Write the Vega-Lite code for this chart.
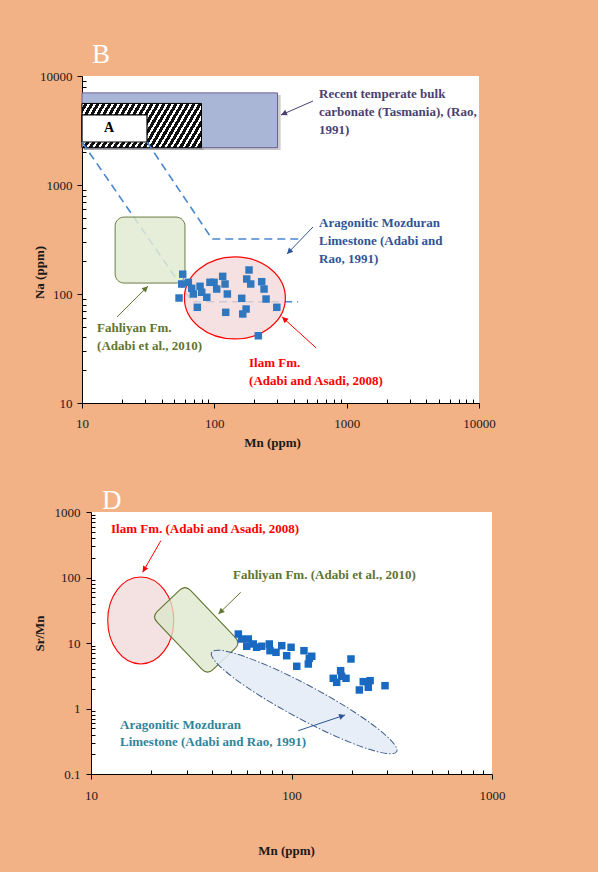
{
  "$schema": "https://vega.github.io/schema/vega-lite/v6.json",
  "background": "#F3B186",
  "padding": {"left": 26, "top": 41, "right": 100, "bottom": 20},
  "spacing": 38,
  "config": {
    "font": "Liberation Serif",
    "view": {"stroke": null},
    "text": {"font": "Liberation Serif"},
    "axis": {
      "grid": false, "domainColor": "#000", "tickColor": "#000", "domainWidth": 1, "tickWidth": 1,
      "labelColor": "#1a1a1a", "labelFont": "Liberation Serif", "labelFontSize": 13,
      "titleFont": "Liberation Serif", "titleFontSize": 13, "titleFontWeight": "bold", "titleColor": "#1a1a1a",
      "labelOverlap": false, "labelFlush": false
    }
  },
  "datasets": {
    "gutter": [{"v": 0}],
    "rectsB": [
      {"id": "recentShadow", "x": 10.35, "x2": 317, "y": 2100, "y2": 6700},
      {"id": "recent", "x": 10, "x2": 300, "y": 2200, "y2": 7000},
      {"id": "hatchShadow", "x": 10.35, "x2": 83, "y": 2100, "y2": 5400},
      {"id": "hatch", "x": 10, "x2": 80, "y": 2200, "y2": 5600},
      {"id": "boxA", "x": 10, "x2": 31, "y": 2480, "y2": 4390},
      {"id": "fahliyan", "x": 17.8, "x2": 60, "y": 126, "y2": 508}
    ],
    "boxLabelB": [{"x": 16, "y": 3300, "t": "A"}],
    "mozduranB": [
      {"side": "L", "o": 0, "x": 10, "y": 2480}, {"side": "L", "o": 1, "x": 68, "y": 85}, {"side": "L", "o": 2, "x": 430, "y": 85},
      {"side": "R", "o": 0, "x": 31, "y": 2480}, {"side": "R", "o": 1, "x": 96, "y": 320}, {"side": "R", "o": 2, "x": 430, "y": 320}
    ],
    "ilamB": [{"x": 143, "y": 92}],
    "ptsB": [
      {"x": 57.7, "y": 152}, {"x": 56.7, "y": 123.5}, {"x": 54.1, "y": 91.9}, {"x": 63.6, "y": 128},
      {"x": 67.5, "y": 112.8}, {"x": 69.4, "y": 100}, {"x": 74.4, "y": 75.5}, {"x": 78, "y": 117.7},
      {"x": 80.3, "y": 103.7}, {"x": 87.7, "y": 93.3}, {"x": 92.7, "y": 128}, {"x": 99.5, "y": 128},
      {"x": 104.2, "y": 111.1}, {"x": 115.6, "y": 145.2}, {"x": 120.5, "y": 123.5}, {"x": 125.4, "y": 100},
      {"x": 121.9, "y": 67.9}, {"x": 161, "y": 91.3}, {"x": 164, "y": 65.6}, {"x": 173.8, "y": 72.8},
      {"x": 175.8, "y": 137.3}, {"x": 182.9, "y": 166}, {"x": 188.4, "y": 123.5}, {"x": 228, "y": 129.7},
      {"x": 237.5, "y": 111.1}, {"x": 246, "y": 89.9}, {"x": 296.5, "y": 75.5}, {"x": 215, "y": 41.4}
    ],
    "arrowsB": [
      {"id": "recent", "o": 0, "x": 557, "y": 5900}, {"id": "recent", "o": 1, "x": 319, "y": 4385},
      {"id": "mozduran", "o": 0, "x": 557, "y": 412}, {"id": "mozduran", "o": 1, "x": 354, "y": 233},
      {"id": "fahliyan", "o": 0, "x": 18.4, "y": 61.5}, {"id": "fahliyan", "o": 1, "x": 31.5, "y": 118},
      {"id": "ilam", "o": 0, "x": 588, "y": 32}, {"id": "ilam", "o": 1, "x": 325, "y": 61.5}
    ],
    "labelsB": [
      {"id": "recent", "x": 618, "y": 6280, "t": "Recent temperate bulk\ncarbonate (Tasmania), (Rao,\n1991)"},
      {"id": "mozduran", "x": 618, "y": 412, "t": "Aragonitic  Mozduran\nLimestone (Adabi and\nRao, 1991)"},
      {"id": "fahliyan", "x": 13.0, "y": 44.8, "t": "Fahliyan Fm.\n(Adabi et al., 2010)"},
      {"id": "ilam", "x": 183, "y": 21.4, "t": "Ilam Fm.\n(Adabi and Asadi, 2008)"}
    ],
    "shapesD": [
      {"id": "ilam", "x": 17.7, "y": 22.1},
      {"id": "fahliyan", "x": 33.5, "y": 15.85},
      {"id": "mozduran", "x": 115.6, "y": 1.256}
    ],
    "ptsD": [
      {"x": 54.3, "y": 13.7}, {"x": 56.4, "y": 11.5}, {"x": 60.9, "y": 11.5}, {"x": 59.8, "y": 8.91},
      {"x": 64.5, "y": 9.66}, {"x": 67, "y": 8.6}, {"x": 71, "y": 8.91}, {"x": 77.5, "y": 9.66},
      {"x": 78.1, "y": 7.63}, {"x": 83.7, "y": 7.21}, {"x": 89.4, "y": 9.1}, {"x": 94.6, "y": 6.4},
      {"x": 99.5, "y": 8.6}, {"x": 106.2, "y": 4.41}, {"x": 115.4, "y": 7.63}, {"x": 122.7, "y": 5.84},
      {"x": 126.2, "y": 6.27}, {"x": 121.3, "y": 4.78}, {"x": 198, "y": 5.7}, {"x": 175.8, "y": 3.78},
      {"x": 161.5, "y": 2.89}, {"x": 177.8, "y": 3.1}, {"x": 187, "y": 2.89}, {"x": 168, "y": 2.51},
      {"x": 228, "y": 2.57}, {"x": 246.6, "y": 2.66}, {"x": 218, "y": 1.92}, {"x": 241.5, "y": 2.11},
      {"x": 292.7, "y": 2.23}
    ],
    "arrowsD": [
      {"id": "ilam", "o": 0, "x": 22.3, "y": 365}, {"id": "ilam", "o": 1, "x": 18.1, "y": 120},
      {"id": "fahliyan", "o": 0, "x": 55.8, "y": 59.4}, {"id": "fahliyan", "o": 1, "x": 43.2, "y": 27.7},
      {"id": "mozduran", "o": 0, "x": 108, "y": 0.458}, {"id": "mozduran", "o": 1, "x": 185, "y": 0.796}
    ],
    "labelsD": [
      {"id": "ilam", "x": 12.58, "y": 478, "t": "Ilam Fm. (Adabi and Asadi, 2008)"},
      {"id": "fahliyan", "x": 51.1, "y": 94.9, "t": "Fahliyan Fm. (Adabi et al., 2010)"},
      {"id": "mozduran", "x": 13.95, "y": 0.495, "t": "Aragonitic  Mozduran\nLimestone (Adabi and Rao, 1991)"}
    ]
  },
  "vconcat": [
    {
      "spacing": 0,
      "hconcat": [
        {"width": 1, "height": 1, "data": {"name": "gutter"}, "mark": {"type": "point", "opacity": 0}},
        {
          "width": 397,
          "height": 327,
          "view": {"fill": "#ffffff", "stroke": null},
          "title": {"text": "B", "anchor": "start", "frame": "group", "dx": 10, "offset": 1, "fontSize": 27, "fontWeight": "normal", "color": "#ffffff", "font": "Liberation Serif"},
          "encoding": {
            "x": {
              "field": "x", "type": "quantitative",
              "scale": {"type": "log", "domain": [10, 10000], "nice": false},
              "axis": {
                "title": "Mn (ppm)", "titleFont": "Liberation Serif", "labelFont": "Liberation Serif",
                "values": [10, 20, 30, 40, 50, 60, 70, 80, 90, 100, 200, 300, 400, 500, 600, 700, 800, 900, 1000, 2000, 3000, 4000, 5000, 6000, 7000, 8000, 9000, 10000],
                "labelExpr": "abs(log(datum.value)/LN10 - round(log(datum.value)/LN10)) < 0.001 ? datum.value + '' : ''",
                "tickSize": {"condition": {"test": "abs(log(datum.value)/LN10 - round(log(datum.value)/LN10)) < 0.001", "value": 5}, "value": -4},
                "labelPadding": 9,
                "titleX": 190, "titleY": 33, "titleBaseline": "top"
              }
            },
            "y": {
              "field": "y", "type": "quantitative",
              "scale": {"type": "log", "domain": [10, 10000], "nice": false},
              "axis": {
                "title": "Na (ppm)", "titleFont": "Liberation Serif", "labelFont": "Liberation Serif",
                "values": [10, 20, 30, 40, 50, 60, 70, 80, 90, 100, 200, 300, 400, 500, 600, 700, 800, 900, 1000, 2000, 3000, 4000, 5000, 6000, 7000, 8000, 9000, 10000],
                "labelExpr": "abs(log(datum.value)/LN10 - round(log(datum.value)/LN10)) < 0.001 ? datum.value + '' : ''",
                "tickSize": {"condition": {"test": "abs(log(datum.value)/LN10 - round(log(datum.value)/LN10)) < 0.001", "value": 5}, "value": -4},
                "labelPadding": 5,
                "titleX": -36, "titleY": 196, "titleAngle": 270, "titleBaseline": "bottom"
              }
            }
          },
          "layer": [
            {
              "data": {"name": "rectsB"},
              "transform": [{"filter": "datum.id == 'recentShadow' || datum.id == 'hatchShadow'"}],
              "mark": {"type": "rect", "fill": "#555555", "fillOpacity": 0.3},
              "encoding": {"x2": {"field": "x2"}, "y2": {"field": "y2"}}
            },
            {
              "data": {"name": "rectsB"},
              "transform": [{"filter": "datum.id == 'recent'"}],
              "mark": {"type": "rect", "fill": "#A9B6D5", "stroke": "#6C5F99", "strokeWidth": 1},
              "encoding": {"x2": {"field": "x2"}, "y2": {"field": "y2"}}
            },
            {
              "data": {"name": "rectsB"},
              "transform": [{"filter": "datum.id == 'hatch'"}],
              "mark": {
                "type": "rect", "stroke": "#000", "strokeWidth": 1,
                "fill": {
                  "gradient": "linear", "x1": 0, "y1": 0, "x2": 1.2, "y2": 0.26,
                  "stops": [
                    {"offset": 0, "color": "#fff"}, {"offset": 0.016, "color": "#fff"}, {"offset": 0.016, "color": "#111"}, {"offset": 0.04, "color": "#111"},
                    {"offset": 0.04, "color": "#fff"}, {"offset": 0.056, "color": "#fff"}, {"offset": 0.056, "color": "#111"}, {"offset": 0.08, "color": "#111"},
                    {"offset": 0.08, "color": "#fff"}, {"offset": 0.096, "color": "#fff"}, {"offset": 0.096, "color": "#111"}, {"offset": 0.12, "color": "#111"},
                    {"offset": 0.12, "color": "#fff"}, {"offset": 0.136, "color": "#fff"}, {"offset": 0.136, "color": "#111"}, {"offset": 0.16, "color": "#111"},
                    {"offset": 0.16, "color": "#fff"}, {"offset": 0.176, "color": "#fff"}, {"offset": 0.176, "color": "#111"}, {"offset": 0.2, "color": "#111"},
                    {"offset": 0.2, "color": "#fff"}, {"offset": 0.216, "color": "#fff"}, {"offset": 0.216, "color": "#111"}, {"offset": 0.24, "color": "#111"},
                    {"offset": 0.24, "color": "#fff"}, {"offset": 0.256, "color": "#fff"}, {"offset": 0.256, "color": "#111"}, {"offset": 0.28, "color": "#111"},
                    {"offset": 0.28, "color": "#fff"}, {"offset": 0.296, "color": "#fff"}, {"offset": 0.296, "color": "#111"}, {"offset": 0.32, "color": "#111"},
                    {"offset": 0.32, "color": "#fff"}, {"offset": 0.336, "color": "#fff"}, {"offset": 0.336, "color": "#111"}, {"offset": 0.36, "color": "#111"},
                    {"offset": 0.36, "color": "#fff"}, {"offset": 0.376, "color": "#fff"}, {"offset": 0.376, "color": "#111"}, {"offset": 0.4, "color": "#111"},
                    {"offset": 0.4, "color": "#fff"}, {"offset": 0.416, "color": "#fff"}, {"offset": 0.416, "color": "#111"}, {"offset": 0.44, "color": "#111"},
                    {"offset": 0.44, "color": "#fff"}, {"offset": 0.456, "color": "#fff"}, {"offset": 0.456, "color": "#111"}, {"offset": 0.48, "color": "#111"},
                    {"offset": 0.48, "color": "#fff"}, {"offset": 0.496, "color": "#fff"}, {"offset": 0.496, "color": "#111"}, {"offset": 0.52, "color": "#111"},
                    {"offset": 0.52, "color": "#fff"}, {"offset": 0.536, "color": "#fff"}, {"offset": 0.536, "color": "#111"}, {"offset": 0.56, "color": "#111"},
                    {"offset": 0.56, "color": "#fff"}, {"offset": 0.576, "color": "#fff"}, {"offset": 0.576, "color": "#111"}, {"offset": 0.6, "color": "#111"},
                    {"offset": 0.6, "color": "#fff"}, {"offset": 0.616, "color": "#fff"}, {"offset": 0.616, "color": "#111"}, {"offset": 0.64, "color": "#111"},
                    {"offset": 0.64, "color": "#fff"}, {"offset": 0.656, "color": "#fff"}, {"offset": 0.656, "color": "#111"}, {"offset": 0.68, "color": "#111"},
                    {"offset": 0.68, "color": "#fff"}, {"offset": 0.696, "color": "#fff"}, {"offset": 0.696, "color": "#111"}, {"offset": 0.72, "color": "#111"},
                    {"offset": 0.72, "color": "#fff"}, {"offset": 0.736, "color": "#fff"}, {"offset": 0.736, "color": "#111"}, {"offset": 0.76, "color": "#111"},
                    {"offset": 0.76, "color": "#fff"}, {"offset": 0.776, "color": "#fff"}, {"offset": 0.776, "color": "#111"}, {"offset": 0.8, "color": "#111"},
                    {"offset": 0.8, "color": "#fff"}, {"offset": 0.816, "color": "#fff"}, {"offset": 0.816, "color": "#111"}, {"offset": 0.84, "color": "#111"},
                    {"offset": 0.84, "color": "#fff"}, {"offset": 0.856, "color": "#fff"}, {"offset": 0.856, "color": "#111"}, {"offset": 0.88, "color": "#111"},
                    {"offset": 0.88, "color": "#fff"}, {"offset": 0.896, "color": "#fff"}, {"offset": 0.896, "color": "#111"}, {"offset": 0.92, "color": "#111"},
                    {"offset": 0.92, "color": "#fff"}, {"offset": 0.936, "color": "#fff"}, {"offset": 0.936, "color": "#111"}, {"offset": 0.96, "color": "#111"},
                    {"offset": 0.96, "color": "#fff"}, {"offset": 0.976, "color": "#fff"}, {"offset": 0.976, "color": "#111"}, {"offset": 1, "color": "#111"}
                  ]
                }
              },
              "encoding": {"x2": {"field": "x2"}, "y2": {"field": "y2"}}
            },
            {
              "data": {"name": "rectsB"},
              "transform": [{"filter": "datum.id == 'boxA'"}],
              "mark": {"type": "rect", "fill": "#ffffff", "stroke": "#000", "strokeWidth": 1.2},
              "encoding": {"x2": {"field": "x2"}, "y2": {"field": "y2"}}
            },
            {
              "data": {"name": "boxLabelB"},
              "mark": {"type": "text", "font": "Liberation Serif", "fontSize": 14, "fontWeight": "bold", "color": "#000", "align": "center", "baseline": "middle"},
              "encoding": {"text": {"field": "t"}}
            },
            {
              "data": {"name": "mozduranB"},
              "mark": {"type": "line", "color": "#4A86D0", "strokeWidth": 1.6, "strokeDash": [8, 5]},
              "encoding": {"detail": {"field": "side"}, "order": {"field": "o"}}
            },
            {
              "data": {"name": "rectsB"},
              "transform": [{"filter": "datum.id == 'fahliyan'"}],
              "mark": {"type": "rect", "fill": "#E2EBD4", "fillOpacity": 0.85, "stroke": "#6B7D43", "strokeWidth": 1, "cornerRadius": 9},
              "encoding": {"x2": {"field": "x2"}, "y2": {"field": "y2"}}
            },
            {
              "data": {"name": "ilamB"},
              "mark": {"type": "point", "shape": "M-1,0A1,0.812 0 1,0 1,0A1,0.812 0 1,0 -1,0Z", "size": 10201, "filled": true, "fill": "#F3DADA", "fillOpacity": 0.8, "stroke": "#FF0000", "strokeWidth": 1.2, "strokeOpacity": 1}
            },
            {
              "data": {"name": "ptsB"},
              "mark": {"type": "square", "size": 56, "color": "#2F78C0", "opacity": 1}
            },
            {
              "data": {"name": "arrowsB"},
              "mark": {"type": "line", "strokeWidth": 1},
              "encoding": {
                "detail": {"field": "id"}, "order": {"field": "o"},
                "color": {"field": "id", "type": "nominal", "scale": {"domain": ["recent", "mozduran", "fahliyan", "ilam"], "range": ["#4B3F72", "#2F5597", "#5F7530", "#FF0000"]}, "legend": null}
              }
            },
            {
              "data": {"name": "arrowsB"},
              "transform": [{"filter": "datum.id == 'recent' && datum.o == 1"}],
              "mark": {"type": "point", "shape": "M0,0L-0.5,1L0.5,1Z", "size": 144, "filled": true, "color": "#4B3F72", "opacity": 1, "angle": 246}
            },
            {
              "data": {"name": "arrowsB"},
              "transform": [{"filter": "datum.id == 'mozduran' && datum.o == 1"}],
              "mark": {"type": "point", "shape": "M0,0L-0.5,1L0.5,1Z", "size": 144, "filled": true, "color": "#2F5597", "opacity": 1, "angle": 224}
            },
            {
              "data": {"name": "arrowsB"},
              "transform": [{"filter": "datum.id == 'fahliyan' && datum.o == 1"}],
              "mark": {"type": "point", "shape": "M0,0L-0.5,1L0.5,1Z", "size": 144, "filled": true, "color": "#5F7530", "opacity": 1, "angle": 45}
            },
            {
              "data": {"name": "arrowsB"},
              "transform": [{"filter": "datum.id == 'ilam' && datum.o == 1"}],
              "mark": {"type": "point", "shape": "M0,0L-0.5,1L0.5,1Z", "size": 144, "filled": true, "color": "#FF0000", "opacity": 1, "angle": 312}
            },
            {
              "data": {"name": "labelsB"},
              "mark": {"type": "text", "font": "Liberation Serif", "align": "left", "baseline": "alphabetic", "fontSize": 13, "fontWeight": "bold", "lineBreak": "\n", "lineHeight": 18},
              "encoding": {
                "text": {"field": "t"},
                "color": {"field": "id", "type": "nominal", "scale": {"domain": ["recent", "mozduran", "fahliyan", "ilam"], "range": ["#5C4A87", "#2F5597", "#5F7530", "#FF0000"]}, "legend": null}
              }
            }
          ]
        }
      ]
    },
    {
      "spacing": 0,
      "hconcat": [
        {"width": 1, "height": 1, "data": {"name": "gutter"}, "mark": {"type": "point", "opacity": 0}},
        {
          "width": 401,
          "height": 262,
          "view": {"fill": "#ffffff", "stroke": null},
          "title": {"text": "D", "anchor": "start", "frame": "group", "dx": 11, "offset": -9, "fontSize": 27, "fontWeight": "normal", "color": "#ffffff", "font": "Liberation Serif"},
          "encoding": {
            "x": {
              "field": "x", "type": "quantitative",
              "scale": {"type": "log", "domain": [10, 1000], "nice": false},
              "axis": {
                "title": "Mn (ppm)", "titleFont": "Liberation Serif", "labelFont": "Liberation Serif",
                "values": [10, 20, 30, 40, 50, 60, 70, 80, 90, 100, 200, 300, 400, 500, 600, 700, 800, 900, 1000],
                "labelExpr": "abs(log(datum.value)/LN10 - round(log(datum.value)/LN10)) < 0.001 ? datum.value + '' : ''",
                "tickSize": {"condition": {"test": "abs(log(datum.value)/LN10 - round(log(datum.value)/LN10)) < 0.001", "value": 5}, "value": -4},
                "labelPadding": 10,
                "titleX": 195, "titleY": 70, "titleBaseline": "top"
              }
            },
            "y": {
              "field": "y", "type": "quantitative",
              "scale": {"type": "log", "domain": [0.1, 1000], "nice": false},
              "axis": {
                "title": "Sr/Mn", "titleFont": "Liberation Serif", "labelFont": "Liberation Serif",
                "values": [0.1, 0.2, 0.3, 0.4, 0.5, 0.6, 0.7, 0.8, 0.9, 1, 2, 3, 4, 5, 6, 7, 8, 9, 10, 20, 30, 40, 50, 60, 70, 80, 90, 100, 200, 300, 400, 500, 600, 700, 800, 900, 1000],
                "labelExpr": "abs(log(datum.value)/LN10 - round(log(datum.value)/LN10)) < 0.001 ? datum.value + '' : ''",
                "tickSize": {"condition": {"test": "abs(log(datum.value)/LN10 - round(log(datum.value)/LN10)) < 0.001", "value": 5}, "value": -4},
                "labelPadding": 6,
                "titleX": -45, "titleY": 121, "titleAngle": 270, "titleBaseline": "bottom"
              }
            }
          },
          "layer": [
            {
              "data": {"name": "shapesD"},
              "transform": [{"filter": "datum.id == 'ilam'"}],
              "mark": {"type": "point", "shape": "M-0.759,0A0.759,1 0 1,0 0.759,0A0.759,1 0 1,0 -0.759,0Z", "size": 7569, "filled": true, "fill": "#F4E1E1", "fillOpacity": 1, "stroke": "#FF0000", "strokeWidth": 1.1, "strokeOpacity": 1}
            },
            {
              "data": {"name": "shapesD"},
              "transform": [{"filter": "datum.id == 'fahliyan'"}],
              "mark": {"type": "point", "shape": "M-0.8,-0.573L0.8,-0.573Q1,-0.573 1,-0.373L1,0.373Q1,0.573 0.8,0.573L-0.8,0.573Q-1,0.573 -1,0.373L-1,-0.373Q-1,-0.573 -0.8,-0.573Z", "size": 6500, "angle": 46.4, "filled": true, "fill": "#DCE7CB", "fillOpacity": 0.75, "stroke": "#5F7530", "strokeWidth": 1.1, "strokeOpacity": 1}
            },
            {
              "data": {"name": "shapesD"},
              "transform": [{"filter": "datum.id == 'mozduran'"}],
              "mark": {"type": "point", "shape": "M-1,0A1,0.16 0 1,0 1,0A1,0.16 0 1,0 -1,0Z", "size": 44100, "angle": 28.2, "filled": true, "fill": "#E3EBF7", "fillOpacity": 0.85, "stroke": "#3E5C8A", "strokeWidth": 1, "strokeOpacity": 1, "strokeDash": [7, 2, 1.5, 2]}
            },
            {
              "data": {"name": "ptsD"},
              "mark": {"type": "square", "size": 56, "color": "#1769C2", "opacity": 1}
            },
            {
              "data": {"name": "arrowsD"},
              "mark": {"type": "line", "strokeWidth": 1},
              "encoding": {
                "detail": {"field": "id"}, "order": {"field": "o"},
                "color": {"field": "id", "type": "nominal", "scale": {"domain": ["ilam", "fahliyan", "mozduran"], "range": ["#FF0000", "#5F7530", "#2F5597"]}, "legend": null}
              }
            },
            {
              "data": {"name": "arrowsD"},
              "transform": [{"filter": "datum.id == 'ilam' && datum.o == 1"}],
              "mark": {"type": "point", "shape": "M0,0L-0.5,1L0.5,1Z", "size": 144, "filled": true, "color": "#FF0000", "opacity": 1, "angle": 210}
            },
            {
              "data": {"name": "arrowsD"},
              "transform": [{"filter": "datum.id == 'fahliyan' && datum.o == 1"}],
              "mark": {"type": "point", "shape": "M0,0L-0.5,1L0.5,1Z", "size": 144, "filled": true, "color": "#5F7530", "opacity": 1, "angle": 226}
            },
            {
              "data": {"name": "arrowsD"},
              "transform": [{"filter": "datum.id == 'mozduran' && datum.o == 1"}],
              "mark": {"type": "point", "shape": "M0,0L-0.5,1L0.5,1Z", "size": 144, "filled": true, "color": "#2F5597", "opacity": 1, "angle": 71}
            },
            {
              "data": {"name": "labelsD"},
              "mark": {"type": "text", "font": "Liberation Serif", "align": "left", "baseline": "alphabetic", "fontSize": 13, "fontWeight": "bold", "lineBreak": "\n", "lineHeight": 17},
              "encoding": {
                "text": {"field": "t"},
                "color": {"field": "id", "type": "nominal", "scale": {"domain": ["ilam", "fahliyan", "mozduran"], "range": ["#FF0000", "#5F7530", "#31849B"]}, "legend": null}
              }
            }
          ],
          "resolve": {"scale": {"color": "independent"}}
        }
      ]
    }
  ],
  "resolve": {"scale": {"color": "independent"}}
}
